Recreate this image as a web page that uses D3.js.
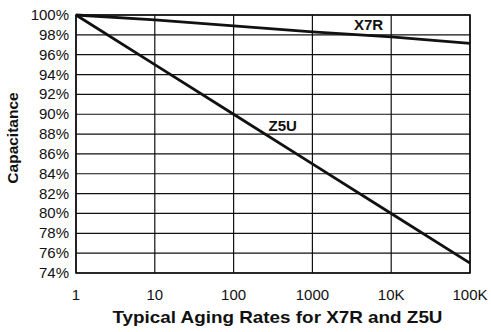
<!DOCTYPE html>
<html>
<head>
<meta charset="utf-8">
<script src="https://cdn.jsdelivr.net/npm/d3@7"></script>
<style>
  html, body { margin: 0; padding: 0; background: #fff; }
  svg { display: block; font-family: "Liberation Sans", Arial, sans-serif; }
</style>
</head>
<body>
<svg id="chart" width="491" height="332"></svg>
<script>
// Aging time (hours) and capacitance retained (%)
const hours = [1, 10, 100, 1000, 10000, 100000];
const x7r = [100, 99.5, 98.9, 98.3, 97.8, 97.15];
const z5u = [100, 95, 90, 85, 80, 75];
const xTickLabels = ["1", "10", "100", "1000", "10K", "100K"];
const yTicks = [74, 76, 78, 80, 82, 84, 86, 88, 90, 92, 94, 96, 98, 100];
const seriesNames = ["X7R", "Z5U"];

const svg = d3.select("#chart");
const plotL = 76, plotR = 470, plotT = 15, plotB = 273;

const x = d3.scaleLog().domain([1, 100000]).range([plotL, plotR]);
const y = d3.scaleLinear().domain([74, 100]).range([plotB, plotT]);

// grid
const g = svg.append("g");
g.selectAll("line.h").data(yTicks).join("line")
  .attr("x1", plotL).attr("x2", plotR)
  .attr("y1", d => y(d)).attr("y2", d => y(d))
  .attr("stroke", "#111").attr("stroke-width", 1.2);
g.selectAll("line.v").data(hours).join("line")
  .attr("y1", plotT).attr("y2", plotB)
  .attr("x1", d => x(d)).attr("x2", d => x(d))
  .attr("stroke", "#111").attr("stroke-width", 1.2);
g.append("rect")
  .attr("x", plotL).attr("y", plotT)
  .attr("width", plotR - plotL).attr("height", plotB - plotT)
  .attr("fill", "none").attr("stroke", "#111").attr("stroke-width", 1.6);

// y tick labels
svg.append("g").selectAll("text").data(yTicks).join("text")
  .attr("x", plotL - 7).attr("y", d => y(d) + 5)
  .attr("text-anchor", "end").attr("font-size", 15).attr("fill", "#111")
  .text(d => d + "%");

// x tick labels
svg.append("g").selectAll("text").data(hours).join("text")
  .attr("x", d => x(d)).attr("y", 300)
  .attr("text-anchor", "middle").attr("font-size", 15).attr("fill", "#111")
  .text((d, i) => xTickLabels[i]);

// curves
const line = d3.line().x(d => x(d[0])).y(d => y(d[1]));
[x7r, z5u].forEach(vals => {
  svg.append("path")
    .datum(hours.map((h, i) => [h, vals[i]]))
    .attr("d", line)
    .attr("fill", "none").attr("stroke", "#111").attr("stroke-width", 2.8);
});

// series labels
const lbl = svg.append("g").attr("font-weight", "bold").attr("font-size", 15).attr("fill", "#111");
lbl.append("text").attr("x", x(5150)).attr("y", 30)
  .attr("text-anchor", "middle").text(seriesNames[0]);
lbl.append("text").attr("x", x(420)).attr("y", 131)
  .attr("text-anchor", "middle").text(seriesNames[1]);

// axis titles
svg.append("text")
  .attr("transform", "translate(18,138) rotate(-90)")
  .attr("text-anchor", "middle").attr("font-weight", "bold").attr("font-size", 15.5)
  .attr("fill", "#111").text("Capacitance");
svg.append("text")
  .attr("x", 277.5).attr("y", 323)
  .attr("text-anchor", "middle").attr("font-weight", "bold").attr("font-size", 17)
  .attr("textLength", 330).attr("lengthAdjust", "spacingAndGlyphs")
  .attr("fill", "#111").text("Typical Aging Rates for X7R and Z5U");
</script>
</body>
</html>
